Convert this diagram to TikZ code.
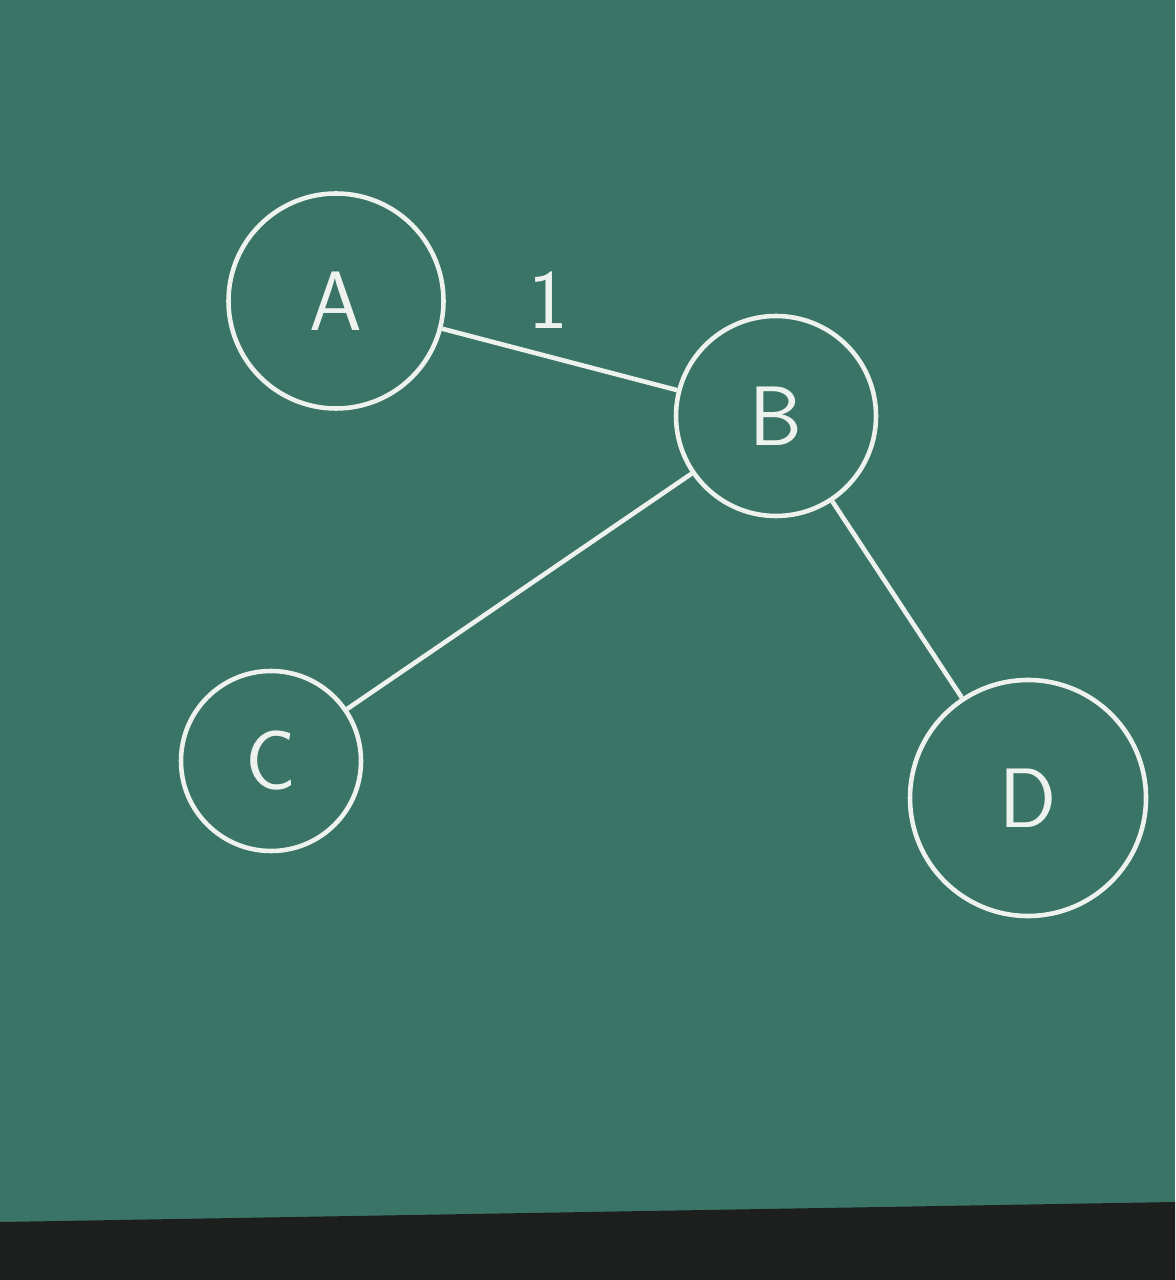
\documentclass[tikz,border=0pt]{standalone}
\usepackage{amsmath}
\usepackage{tikz}

\definecolor{board}{HTML}{3A7466}
\definecolor{chalk}{HTML}{EEF2EE}
\definecolor{ledge}{HTML}{1C1F1E}

\begin{document}
\begin{tikzpicture}[every node/.style={text=chalk,font=\sffamily\fontsize{24}{28}\selectfont}]
\useasboundingbox (0,0) rectangle (11.75,-12.8);
\fill[board] (0,0) rectangle (11.75,-12.8);
\fill[ledge] (0,-12.22) -- (11.75,-12.02) -- (11.75,-12.8) -- (0,-12.8) -- cycle;

\draw (3.36,-3.01)  node (a) [draw=chalk,line width=1.3pt,shape=circle,minimum size=2.15cm] {A};
\draw (7.76,-4.16)  node (b) [draw=chalk,line width=1.3pt,shape=circle,minimum size=2.0cm] {B};
\draw (2.71,-7.61)  node (c) [draw=chalk,line width=1.3pt,shape=circle,minimum size=1.8cm] {C};
\draw (10.28,-7.98) node (d) [draw=chalk,line width=1.3pt,shape=circle,minimum size=2.36cm] {D};
\draw[chalk,line width=1.3pt] (a) edge node [above,pos=0.45,yshift=4pt] {1} (b);
\draw[chalk,line width=1.3pt] (b) edge (c);
\draw[chalk,line width=1.3pt] (b) edge (d);

\end{tikzpicture}
\end{document}
